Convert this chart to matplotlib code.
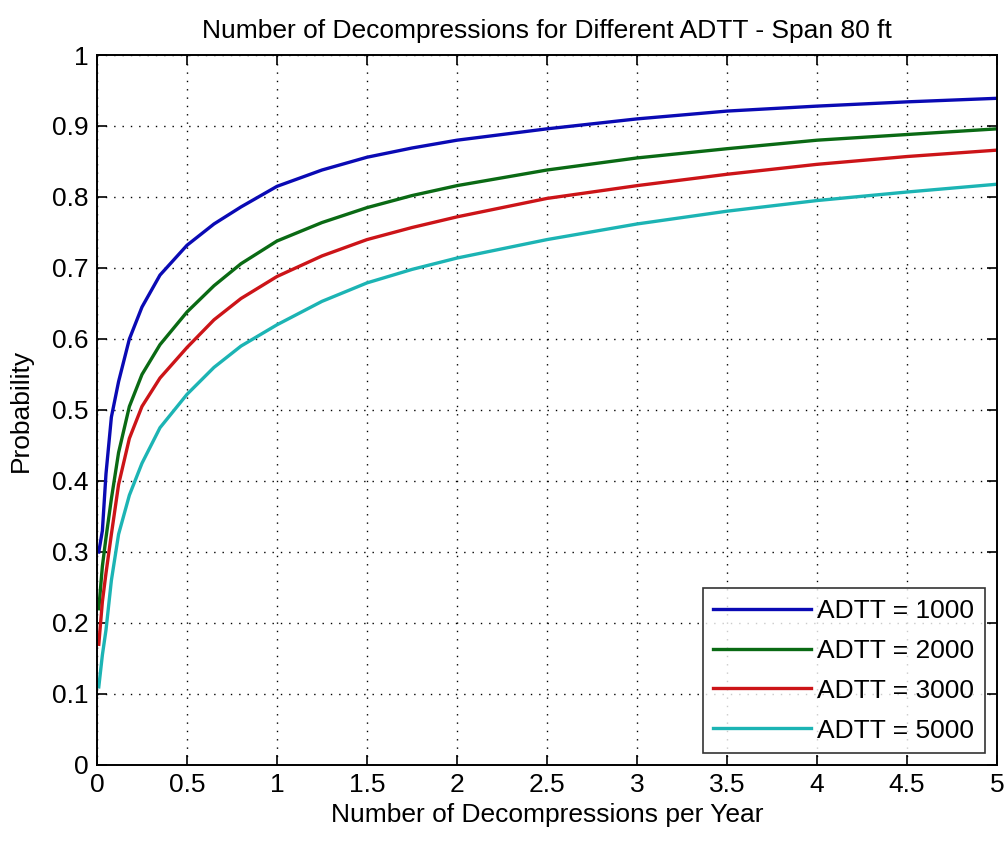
import matplotlib.pyplot as plt
from matplotlib.ticker import FuncFormatter

plt.rcParams['font.family'] = ['Liberation Sans Narrow', 'Liberation Sans', 'DejaVu Sans']

# Werte
decomp = [0.01, 0.03, 0.05, 0.08, 0.12, 0.18, 0.25, 0.35, 0.5, 0.65, 0.8, 1.0, 1.25, 1.5, 1.75,
          2.0, 2.5, 3.0, 3.5, 4.0, 4.5, 5.0]
p_1000 = [0.30, 0.33, 0.41, 0.49, 0.54, 0.60, 0.645, 0.69, 0.732, 0.762, 0.786, 0.815, 0.838, 0.856, 0.869,
          0.880, 0.896, 0.910, 0.921, 0.928, 0.934, 0.939]
p_2000 = [0.22, 0.28, 0.32, 0.375, 0.44, 0.505, 0.55, 0.592, 0.638, 0.675, 0.706, 0.738, 0.764, 0.785, 0.802,
          0.816, 0.838, 0.855, 0.868, 0.880, 0.888, 0.896]
p_3000 = [0.17, 0.23, 0.27, 0.325, 0.395, 0.46, 0.505, 0.545, 0.588, 0.627, 0.657, 0.688, 0.717, 0.740, 0.757,
          0.772, 0.798, 0.816, 0.832, 0.846, 0.857, 0.866]
p_5000 = [0.11, 0.155, 0.19, 0.26, 0.325, 0.38, 0.425, 0.475, 0.522, 0.56, 0.59, 0.620, 0.653, 0.679, 0.698,
          0.714, 0.740, 0.762, 0.780, 0.795, 0.807, 0.818]

labels = ['ADTT = 1000', 'ADTT = 2000', 'ADTT = 3000', 'ADTT = 5000']
farben = ['#0a0ab4', '#0a6a14', '#cc1418', '#1cb4b4']

fig = plt.figure(figsize=(10.05, 8.41), dpi=100)
ax = fig.add_axes([0.0965, 0.0904, 0.8955, 0.8442])

for werte, lab, col in zip([p_1000, p_2000, p_3000, p_5000], labels, farben):
    ax.plot(decomp, werte, color=col, linewidth=2.4, label=lab)

ax.set_xlim(0, 5)
ax.set_ylim(0, 1)
ax.set_xticks([0, 0.5, 1, 1.5, 2, 2.5, 3, 3.5, 4, 4.5, 5])
ax.set_yticks([i / 10 for i in range(11)])
ax.xaxis.set_major_formatter(FuncFormatter(lambda v, p: '%g' % v))
ax.yaxis.set_major_formatter(FuncFormatter(lambda v, p: '%g' % v))
ax.tick_params(direction='in', top=True, right=True, length=7, width=1.2, labelsize=19, pad=6)
ax.grid(True, color='black', linestyle=(0, (1, 5)), linewidth=1)
for s in ax.spines.values():
    s.set_linewidth(1.4)

ax.set_title('Number of Decompressions for Different ADTT - Span 80 ft', fontsize=19, pad=12)
ax.set_xlabel('Number of Decompressions per Year', fontsize=19, labelpad=4)
ax.set_ylabel('Probability', fontsize=19, labelpad=14)

leg = ax.legend(loc='lower right', fontsize=19, handlelength=3.7, frameon=True, fancybox=False,
                edgecolor='black', borderaxespad=0.45, labelspacing=0.6, handletextpad=0.25,
                borderpad=0.4)
leg.get_frame().set_linewidth(1.2)

fig.savefig('out.png', dpi=100)
